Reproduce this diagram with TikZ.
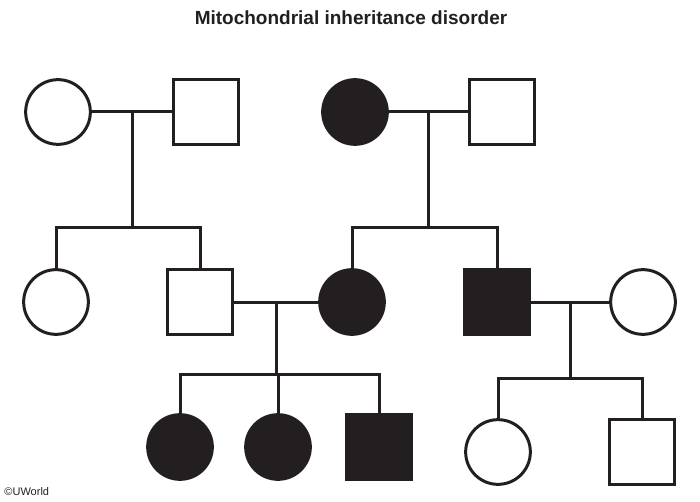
\documentclass[tikz,border=0pt]{standalone}
\usepackage{fontspec}
\setsansfont{Liberation Sans}
\usetikzlibrary{calc}
\definecolor{ink}{RGB}{35,31,32}
\tikzset{
  every picture/.style={color=ink, line width=3pt, font=\sffamily},
  person/.style={draw=ink, line width=3pt, inner sep=0pt, minimum size=64.7pt},
  female/.style={person, circle},
  male/.style={person, rectangle},
  hit/.style={fill=ink},
  link/.style={draw=ink, line width=3pt},
  title/.style={font=\sffamily\bfseries\fontsize{19}{22}\selectfont},
}
\begin{document}
\begin{tikzpicture}[x=1pt, y=-1pt, credit/.style={font=\sffamily\fontsize{11}{12}\selectfont, inner sep=0pt}]
  \useasboundingbox (0,0) rectangle (700,502);
  \node[title] (ttl) at (351,18) {Mitochondrial inheritance disorder};
  % first generation
  \node[female] (ga) at (58,112) {};
  \node[male] (gb) at (206,112) {};
  \node[female, hit] (gc) at (355,112) {};
  \node[male] (gd) at (502,112) {};
  % second generation
  \node[female] (pa) at (56,302) {};
  \node[male] (pb) at (200,302) {};
  \node[female, hit] (pc) at (352,302) {};
  \node[male, hit] (pd) at (497,302) {};
  \node[female] (pe) at (643,302) {};
  % third generation
  \node[female, hit] (ka) at (180,447) {};
  \node[female, hit] (kb) at (278,447) {};
  \node[male, hit] (kc) at (379,447) {};
  \node[female] (kd) at (498,452) {};
  \node[male] (ke) at (642,452) {};
  % couples
  \draw[link] (ga) -- (gb); \draw[link] (gc) -- (gd);
  \draw[link] (pb) -- (pc); \draw[link] (pd) -- (pe);
  \coordinate (m1) at ($(ga.east)!.5!(gb.west)$);
  \coordinate (m2) at ($(gc.east)!.5!(gd.west)$);
  \coordinate (m3) at ($(pb.east)!.5!(pc.west)$);
  \coordinate (m4) at ($(pd.east)!.5!(pe.west)$);
  % sibships
  \coordinate (s1) at (m1 |- 0,228); \coordinate (s2) at (m2 |- 0,228);
  \coordinate (s3) at (m3 |- 0,374); \coordinate (s4) at (m4 |- 0,378);
  \draw[link] (m1) -- (s1); \draw[link] (pa.north) -- (pa.north |- s1) -- (pb.north |- s1) -- (pb.north);
  \draw[link] (m2) -- (s2); \draw[link] (pc.north) -- (pc.north |- s2) -- (pd.north |- s2) -- (pd.north);
  \draw[link] (m3) -- (s3); \draw[link] (ka.north) -- (ka.north |- s3) -- (kc.north |- s3) -- (kc.north);
  \draw[link] (kb.north) -- (kb.north |- s3);
  \draw[link] (m4) -- (s4); \draw[link] (kd.north) -- (kd.north |- s4) -- (ke.north |- s4) -- (ke.north);
  \node[credit, anchor=west] (cpy) at (3,492) {©UWorld};
\end{tikzpicture}
\end{document}
